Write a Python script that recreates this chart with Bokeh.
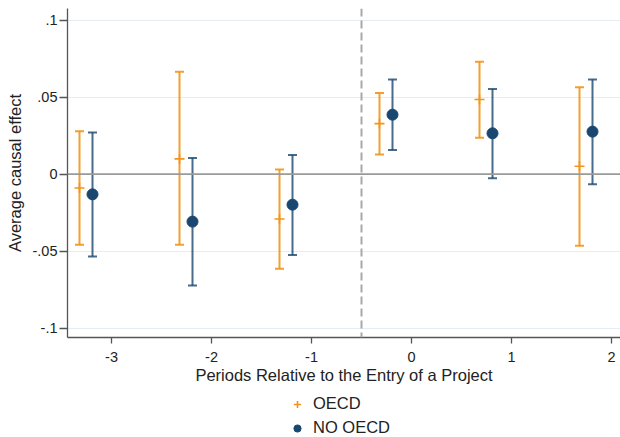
from bokeh.plotting import figure
from bokeh.layouts import column
from bokeh.models import (ColumnDataSource, Whisker, TeeHead, Span, Legend, LegendItem,
                          FixedTicker, Range1d)
from bokeh.embed import file_html
from bokeh.resources import INLINE

# ---- data ----
periods = [-3, -2, -1, 0, 1, 2]
oecd_est = [-0.0090, 0.0099, -0.0291, 0.0328, 0.0484, 0.0051]
oecd_lo = [-0.0458, -0.0458, -0.0614, 0.0127, 0.0237, -0.0464]
oecd_hi = [0.0278, 0.0664, 0.0031, 0.0527, 0.0730, 0.0564]
nooecd_est = [-0.0131, -0.0308, -0.0198, 0.0386, 0.0265, 0.0276]
nooecd_lo = [-0.0534, -0.0722, -0.0525, 0.0157, -0.0027, -0.0066]
nooecd_hi = [0.0271, 0.0105, 0.0125, 0.0614, 0.0553, 0.0614]
series_names = ["OECD", "NO OECD"]
ytick_values = [-0.1, -0.05, 0, 0.05, 0.1]
ytick_labels = ["-.1", "-.05", "0", ".05", ".1"]
xtick_values = [-3, -2, -1, 0, 1, 2]
xtick_labels = ["-3", "-2", "-1", "0", "1", "2"]
x_title = "Periods Relative to the Entry of a Project"
y_title = "Average causal effect"

# ---- styling ----
ORANGE = "#F2951B"
NAVY = "#1A476F"
FONT = "Liberation Sans"
TXT = "#222222"
off_oecd, off_no = -0.32, -0.19

src_o = ColumnDataSource(dict(x=[p + off_oecd for p in periods], y=oecd_est, lo=oecd_lo, hi=oecd_hi))
src_n = ColumnDataSource(dict(x=[p + off_no for p in periods], y=nooecd_est, lo=nooecd_lo, hi=nooecd_hi))

p = figure(width=620, height=388, output_backend="svg", toolbar_location=None,
           x_range=Range1d(-3.44, 2.09), y_range=Range1d(-0.106, 0.1075),
           min_border_left=67, min_border_right=0, min_border_top=8, min_border_bottom=51)
p.outline_line_color = None
p.background_fill_color = "white"
p.xgrid.grid_line_color = None
p.ygrid.grid_line_color = "#E4EDF1"
p.ygrid.grid_line_width = 1.2

for ax in (p.xaxis[0], p.yaxis[0]):
    ax.axis_line_color = "#555555"
    ax.axis_line_width = 1.3
    ax.major_tick_line_color = "#555555"
    ax.major_tick_line_width = 1.3
    ax.major_tick_in = 0
    ax.minor_tick_out = 0
    ax.minor_tick_in = 0
    ax.major_label_text_font = FONT
    ax.major_label_text_font_size = "14.5px"
    ax.major_label_text_color = TXT
    ax.axis_label_text_font = FONT
    ax.axis_label_text_font_size = "16.5px"
    ax.axis_label_text_font_style = "normal"
    ax.axis_label_text_color = TXT

p.xaxis.ticker = FixedTicker(ticks=xtick_values)
p.yaxis.ticker = FixedTicker(ticks=ytick_values)
p.xaxis.major_label_overrides = {v: l for v, l in zip(xtick_values, xtick_labels)}
p.yaxis.major_label_overrides = {v: l for v, l in zip(ytick_values, ytick_labels)}
p.xaxis.axis_label = x_title
p.yaxis.axis_label = y_title
p.xaxis.major_tick_out = 6
p.yaxis.major_tick_out = 8
p.xaxis.major_label_standoff = 8
p.xaxis.axis_label_standoff = 1
p.yaxis.major_label_standoff = 2
p.yaxis.axis_label_standoff = 6

p.add_layout(Span(location=0, dimension="width", line_color="#9A9A9A", line_width=1.8))
p.add_layout(Span(location=-0.5, dimension="height", line_color="#A8A8A8",
                  line_width=2, line_dash="8 4"))

w_o = Whisker(source=src_o, base="x", lower="lo", upper="hi", line_color=ORANGE, line_width=2,
              line_alpha=0.9,
              upper_head=TeeHead(size=9, line_color=ORANGE, line_width=2, line_alpha=0.9),
              lower_head=TeeHead(size=9, line_color=ORANGE, line_width=2, line_alpha=0.9))
w_n = Whisker(source=src_n, base="x", lower="lo", upper="hi", line_color=NAVY, line_width=2,
              line_alpha=0.8,
              upper_head=TeeHead(size=9, line_color=NAVY, line_width=2, line_alpha=0.8),
              lower_head=TeeHead(size=9, line_color=NAVY, line_width=2, line_alpha=0.8))
p.add_layout(w_o)
p.add_layout(w_n)

p.scatter("x", "y", source=src_o, marker="cross", size=10, line_color=ORANGE, line_width=1.6)
p.scatter("x", "y", source=src_n, marker="circle", size=11, fill_color=NAVY, line_color=NAVY)

# ---- legend strip below the plot (key-only renderers, nothing drawn in the strip) ----
nan = float("nan")
lg = figure(width=620, height=49, output_backend="svg", toolbar_location=None,
            x_range=Range1d(0, 1), y_range=Range1d(0, 1),
            x_axis_type=None, y_axis_type=None,
            min_border_left=0, min_border_right=0, min_border_top=0, min_border_bottom=0)
lg.outline_line_color = None
lg.xgrid.grid_line_color = None
lg.ygrid.grid_line_color = None
k_o = lg.scatter(x=[nan], y=[nan], marker="cross", size=10, line_color=ORANGE, line_width=1.6)
k_n = lg.scatter(x=[nan], y=[nan], marker="circle", size=11, fill_color=NAVY, line_color=NAVY)
legend = Legend(items=[LegendItem(label=series_names[0], renderers=[k_o]),
                       LegendItem(label=series_names[1], renderers=[k_n])],
                location=(220, 0), orientation="vertical",
                border_line_color=None, background_fill_alpha=0,
                label_text_font=FONT, label_text_font_size="16.5px", label_text_color=TXT,
                glyph_width=20, glyph_height=18, label_height=18, label_standoff=6,
                spacing=5, padding=0, margin=0)
lg.add_layout(legend, "center")

layout = column(p, lg, spacing=0)
open("out.html", "w").write(file_html(layout, INLINE))
